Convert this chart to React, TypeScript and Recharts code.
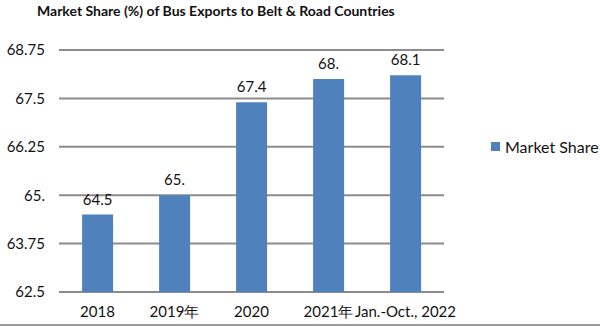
import { Bar, BarChart, CartesianGrid, LabelList, XAxis, YAxis } from "recharts";

// Categories and values
const categories = ["2018", "2019年", "2020", "2021年", "Jan.-Oct., 2022"];
const marketShare = [64.5, 65, 67.4, 68, 68.1];
const valueLabels = ["64.5", "65.", "67.4", "68.", "68.1"];
const yTicks = [62.5, 63.75, 65, 66.25, 67.5, 68.75];
const yTickLabels = ["62.5", "63.75", "65.", "66.25", "67.5", "68.75"];

const FONT = "Lato, 'Open Sans', sans-serif";
const BAR = "#4f81bd";
const GRID = "#8c8c8c";
const TICK = { fill: "#111", fontSize: 15, fontFamily: FONT };

const data = categories.map((c, i) => ({
  name: c,
  share: marketShare[i],
  label: valueLabels[i],
}));

export default function App() {
  return (
    <div style={{ position: "relative", width: 600, height: 327, background: "#fff" }}>
      <style>{`body{margin:0}`}</style>
      <div
        style={{
          position: "absolute",
          left: 37,
          top: 2,
          fontFamily: FONT,
          fontWeight: 700,
          fontSize: 14,
          color: "#111",
          whiteSpace: "nowrap",
        }}
      >
        Market Share (%) of Bus Exports to Belt &amp; Road Countries
      </div>
      <BarChart
        width={600}
        height={327}
        data={data}
        barCategoryGap="30%"
        margin={{ top: 50, right: 156, bottom: 5, left: 9 }}
      >
        <CartesianGrid vertical={false} stroke={GRID} strokeWidth={2} />
        <XAxis
          dataKey="name"
          interval={0}
          axisLine={false}
          tickLine={false}
          tickSize={0}
          tickMargin={14}
          height={30}
          tick={TICK}
        />
        <YAxis
          type="number"
          domain={[62.5, 68.75]}
          ticks={yTicks}
          tickFormatter={(v: number) => yTickLabels[yTicks.indexOf(v)] ?? String(v)}
          axisLine={false}
          tickLine={false}
          tickSize={0}
          tickMargin={14}
          width={50}
          tick={TICK}
        />
        <Bar dataKey="share" name="Market Share" fill={BAR} isAnimationActive={false}>
          <LabelList dataKey="label" position="top" offset={10} fill="#111" fontSize={15} fontFamily={FONT} />
        </Bar>
      </BarChart>
      <div
        style={{
          position: "absolute",
          left: 491,
          top: 137,
          display: "flex",
          alignItems: "center",
          fontFamily: FONT,
          fontSize: 16,
          color: "#111",
          whiteSpace: "nowrap",
        }}
      >
        <span style={{ display: "inline-block", width: 9, height: 9, background: BAR, marginRight: 5 }} />
        Market Share
      </div>
      <div style={{ position: "absolute", left: 0, top: 324, width: 600, height: 2, background: "#9a9a9a" }} />
    </div>
  );
}
